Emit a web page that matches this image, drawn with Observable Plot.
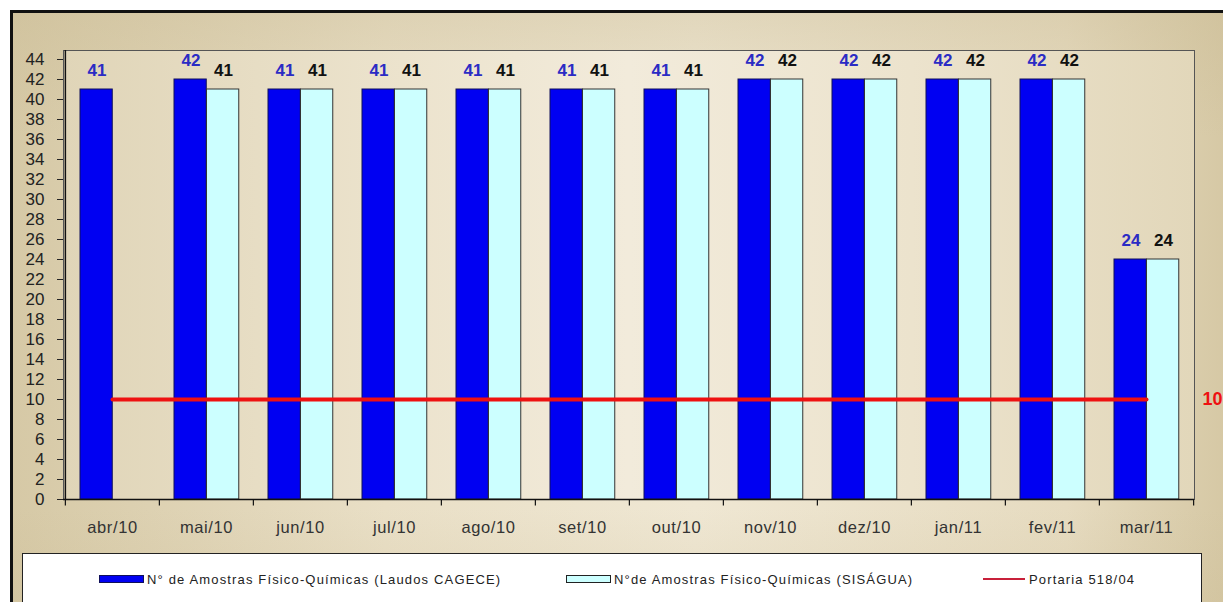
<!DOCTYPE html>
<html>
<head>
<meta charset="utf-8">
<script src="https://cdn.jsdelivr.net/npm/d3@7"></script>
<script src="https://cdn.jsdelivr.net/npm/@observablehq/plot@0.6"></script>
<style>
  html, body { margin: 0; padding: 0; background: #fff; width: 1223px; height: 602px; overflow: hidden; font-family: Arial, "Liberation Sans", sans-serif; }
  #outer { position: absolute; left: 10px; top: 10px; width: 1240px; height: 620px;
    border-left: 3px solid #111; border-top: 3px solid #111;
    background: linear-gradient(90deg, #d6c9a6 0%, #e9dfc6 30%, #efe7d3 55%, #e6dbc0 85%, #d3c5a0 100%); }
  #outer::before { content: ""; position: absolute; inset: 0;
    background: linear-gradient(180deg, rgba(200,185,145,0.35) 0%, rgba(255,255,255,0) 20%, rgba(255,255,255,0) 80%, rgba(200,185,145,0.3) 100%); }
  #plotbg { position: absolute; left: 63px; top: 50px; width: 1131px; height: 449px;
    background: linear-gradient(90deg, #e0d5b8 0%, #ece3cd 30%, #f2ebdb 50%, #ece3cd 75%, #e2d7ba 100%); }
  #chart { position: absolute; left: 0; top: 0; }
  #chart svg g[aria-label="x-axis tick label"] text { letter-spacing: 0.6px; }
  #legend { position: absolute; left: 22px; top: 553px; width: 1178px; height: 80px; background: #fff; border: 1px solid #222; }
  .item { position: absolute; top: 17px; font-size: 13px; color: #222; white-space: nowrap; letter-spacing: 1.15px;
    display: flex; align-items: center; height: 16px; }
  .sw { display: inline-block; height: 8px; margin-right: 3px; box-sizing: border-box; }
</style>
</head>
<body>
<div id="outer"></div>
<div id="plotbg"></div>
<div id="chart"></div>
<div id="legend"></div>
<script>
const months = ["abr/10","mai/10","jun/10","jul/10","ago/10","set/10","out/10","nov/10","dez/10","jan/11","fev/11","mar/11"];
const cagece = [41,42,41,41,41,41,41,42,42,42,42,24];
const sisagua = [null,41,41,41,41,41,41,42,42,42,42,24];
const portaria = [10,10,10,10,10,10,10,10,10,10,10,10];
const yTicks = d3.range(0, 45, 2);

const seriesNames = ["N° de Amostras Físico-Químicas (Laudos CAGECE)", "N°de Amostras Físico-Químicas (SISÁGUA)", "Portaria 518/04"];
const blue = "#0000f2", light = "#ccffff", red = "#ee1111";

const W = 1223, H = 550, mL = 63, mR = 29, mT = 50, mB = 51;
const bw = (W - mL - mR) / months.length;

const cData = months.map((m, i) => ({month: m, value: cagece[i]}));
const sData = months.map((m, i) => ({month: m, value: sisagua[i]})).filter(d => d.value != null);
const pData = months.map((m, i) => ({month: m, value: portaria[i]}));

const chart = Plot.plot({
  width: W, height: H,
  marginLeft: mL, marginRight: mR, marginTop: mT, marginBottom: mB,
  style: {background: "transparent", fontFamily: "Arial, 'Liberation Sans', sans-serif", overflow: "visible"},
  x: {domain: months, padding: 0},
  y: {domain: [0, 44.9]},
  marks: [
    Plot.frame({stroke: "#555", strokeWidth: 1}),
    Plot.barY(cData, {x: "month", y: "value", fill: blue, stroke: "#10105a", strokeWidth: 1, insetLeft: 15, insetRight: bw - 15 - 32.5}),
    Plot.barY(sData, {x: "month", y: "value", fill: light, stroke: "#333", strokeWidth: 1, insetLeft: 47.5, insetRight: bw - 47.5 - 32.5}),
    Plot.lineY(pData, {x: "month", y: "value", stroke: red, strokeWidth: 4}),
    Plot.text(cData, {x: "month", y: "value", text: d => String(d.value), dx: -15.5, dy: -19, fill: "#2b2bc4", fontWeight: "bold", fontSize: 17}),
    Plot.text(sData, {x: "month", y: "value", text: d => String(d.value), dx: 17, dy: -19, fill: "#111", fontWeight: "bold", fontSize: 17}),
    Plot.text([pData[pData.length - 1]], {y: "value", text: d => String(d.value), frameAnchor: "right", dx: 8, textAnchor: "start", fill: red, fontWeight: "bold", fontSize: 18}),
    Plot.axisY({ticks: yTicks, tickSize: 6, tickPadding: 13, fontSize: 17, fill: "#222", stroke: "#222", label: null}),
    Plot.axisX({tickSize: 0, tickPadding: 22, fontSize: 16.5, fill: "#333", label: null}),
    Plot.ruleY([0], {stroke: "#111", strokeWidth: 1.5}),
    Plot.ruleX([0], {x: () => months[0], dx: -bw / 2, stroke: "#111", strokeWidth: 1.5}),
    Plot.ruleX(months, {x: d => d, dx: -bw / 2, y1: 0, y2: -0.65, stroke: "#111", strokeWidth: 1.2}),
    Plot.ruleX([months[months.length - 1]], {x: d => d, dx: bw / 2, y1: 0, y2: -0.65, stroke: "#111", strokeWidth: 1.2})
  ]
});
document.getElementById("chart").appendChild(chart);

const legend = document.getElementById("legend");
const items = [
  {left: 76, sw: `<span class="sw" style="width:45px;background:${blue};border:1px solid #10105a"></span>`, text: seriesNames[0]},
  {left: 543, sw: `<span class="sw" style="width:45px;background:${light};border:1px solid #222"></span>`, text: seriesNames[1]},
  {left: 960, sw: `<span class="sw" style="width:42px;height:2px;background:#c8203a;margin-right:4px"></span>`, text: seriesNames[2]}
];
items.forEach(it => {
  const d = document.createElement("div");
  d.className = "item";
  d.style.left = it.left + "px";
  d.innerHTML = it.sw + `<span>${it.text}</span>`;
  legend.appendChild(d);
});
</script>
</body>
</html>
